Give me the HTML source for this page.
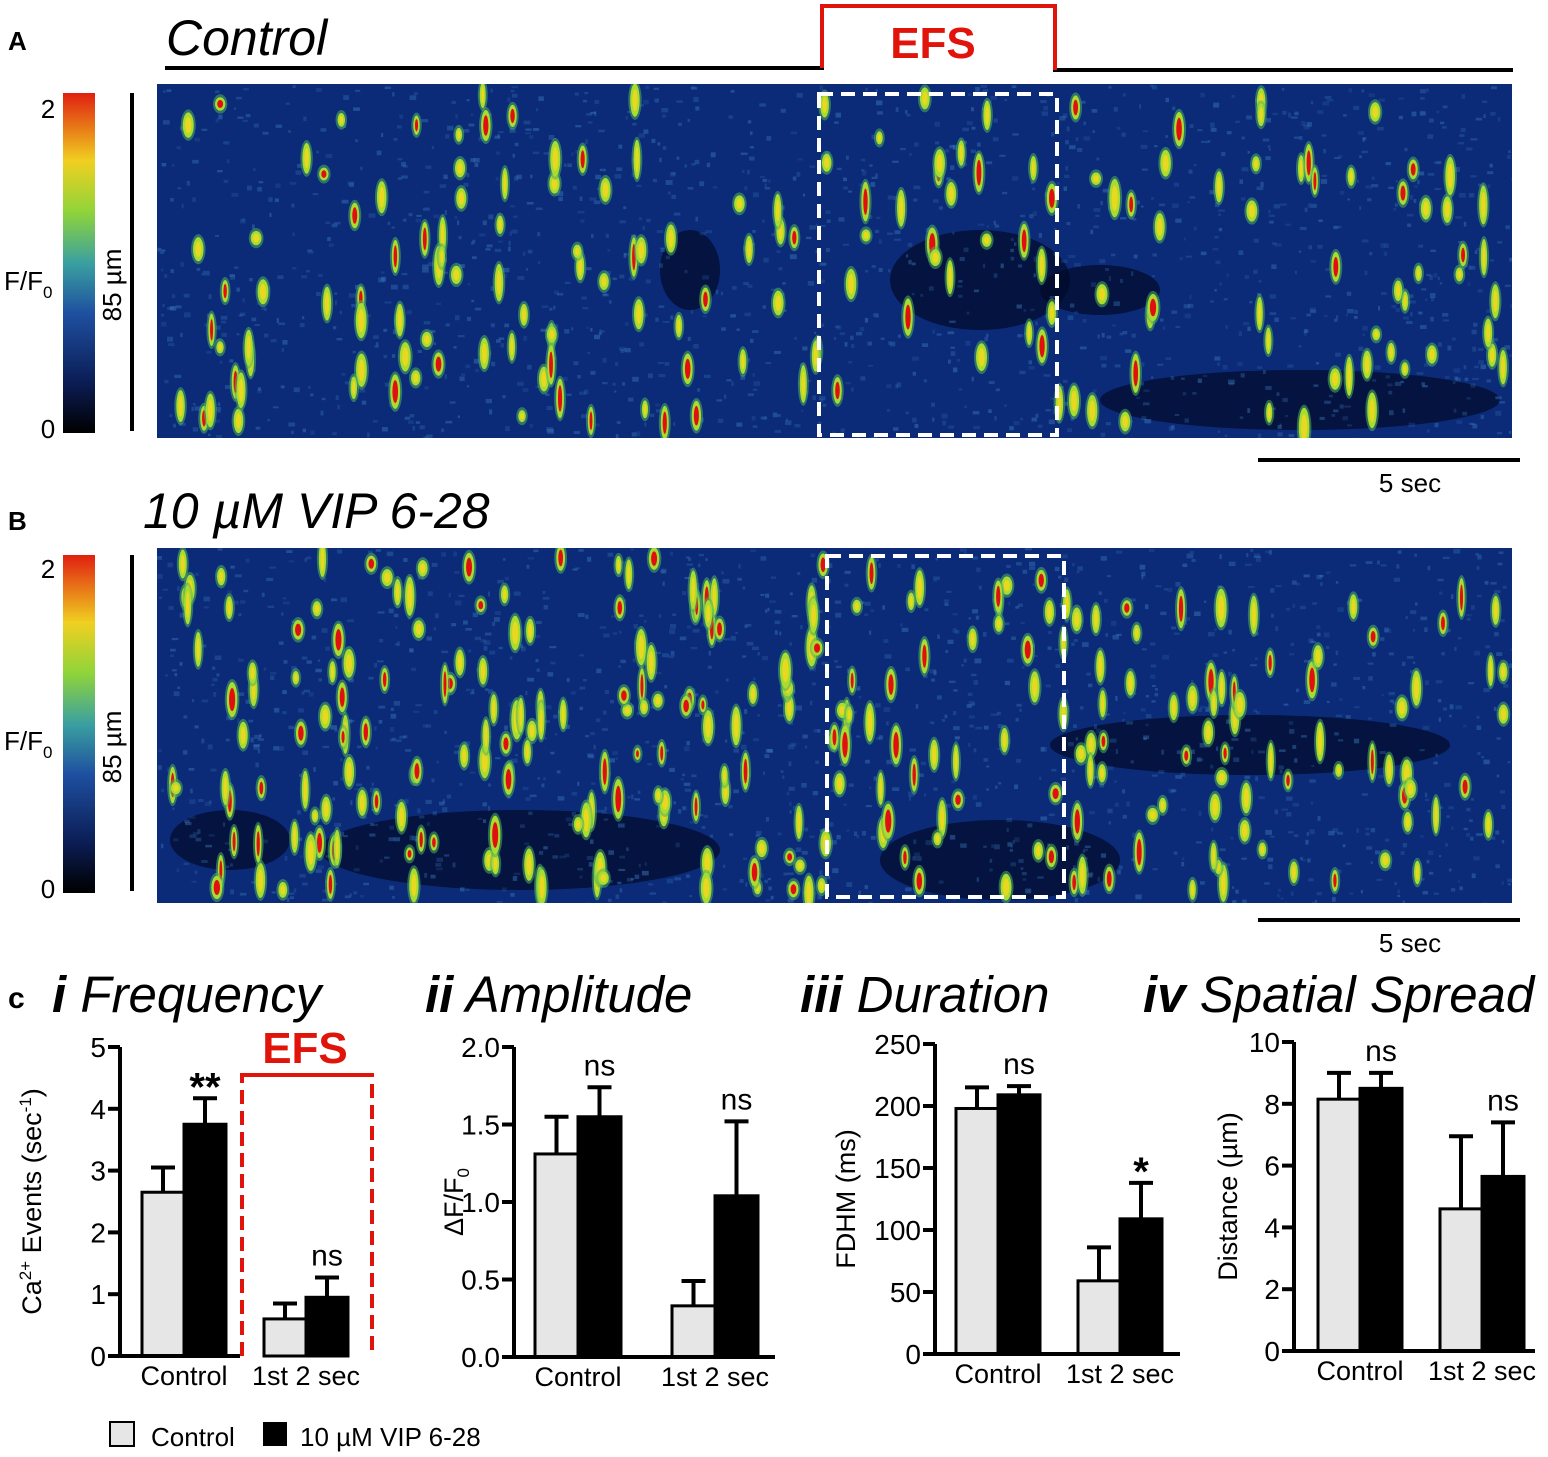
<!DOCTYPE html>
<html><head><meta charset="utf-8">
<style>
html,body{margin:0;padding:0;background:#fff;}
svg{display:block;font-family:"Liberation Sans",Arial,sans-serif;}
</style></head>
<body>
<svg id="fig" width="1548" height="1457" viewBox="0 0 1548 1457">
<defs>
<linearGradient id="cbar" x1="0" y1="1" x2="0" y2="0">
<stop offset="0" stop-color="#000000"/><stop offset="0.15" stop-color="#0b1d55"/><stop offset="0.35" stop-color="#1e4fa0"/><stop offset="0.5" stop-color="#3aa0a0"/><stop offset="0.65" stop-color="#8fd43a"/><stop offset="0.8" stop-color="#f0d020"/><stop offset="1" stop-color="#e02010"/>
</linearGradient>
<clipPath id="clipA"><rect x="157" y="84" width="1355" height="354"/></clipPath>
<clipPath id="clipB"><rect x="157" y="548" width="1355" height="355"/></clipPath>
</defs>

<text x="8" y="50" font-size="26" font-weight="bold">A</text>
<text x="166" y="55" font-size="50" font-style="italic">Control</text>
<polyline points="165,68 822,68 822,6 1055,6 1055,70 1513,70" fill="none" stroke="#000" stroke-width="4"/>
<polyline points="822,68 822,6 1055,6 1055,70" fill="none" stroke="#e0140a" stroke-width="4"/>
<text x="933" y="58" font-size="44" font-weight="bold" fill="#e0140a" text-anchor="middle">EFS</text>

<rect x="63" y="93" width="32" height="340" fill="url(#cbar)"/>
<text x="48" y="118" font-size="26" text-anchor="middle">2</text>
<text x="48" y="438" font-size="26" text-anchor="middle">0</text>
<text x="4" y="290" font-size="26">F/F<tspan font-size="17" dy="8">0</tspan></text>
<line x1="132" y1="93" x2="132" y2="431" stroke="#000" stroke-width="4"/>
<text transform="translate(121,285) rotate(-90)" font-size="26" text-anchor="middle">85 µm</text>
<g id="kymoA" clip-path="url(#clipA)"></g>
<line x1="1258" y1="460" x2="1520" y2="460" stroke="#000" stroke-width="4"/>
<text x="1410" y="492" font-size="26" text-anchor="middle">5 sec</text>

<text x="8" y="530" font-size="26" font-weight="bold">B</text>
<text x="143" y="528" font-size="50" font-style="italic">10 µM VIP 6-28</text>
<rect x="63" y="555" width="32" height="338" fill="url(#cbar)"/>
<text x="48" y="578" font-size="26" text-anchor="middle">2</text>
<text x="48" y="898" font-size="26" text-anchor="middle">0</text>
<text x="4" y="750" font-size="26">F/F<tspan font-size="17" dy="8">0</tspan></text>
<line x1="132" y1="555" x2="132" y2="891" stroke="#000" stroke-width="4"/>
<text transform="translate(121,747) rotate(-90)" font-size="26" text-anchor="middle">85 µm</text>
<g id="kymoB" clip-path="url(#clipB)"></g>
<line x1="1258" y1="920" x2="1520" y2="920" stroke="#000" stroke-width="4"/>
<text x="1410" y="952" font-size="26" text-anchor="middle">5 sec</text>

<text x="8" y="1008" font-size="30" font-weight="bold">c</text>
<text x="52" y="1012" font-size="51" font-style="italic"><tspan font-weight="bold">i</tspan> Frequency</text>
<text x="425" y="1012" font-size="51" font-style="italic"><tspan font-weight="bold">ii</tspan> Amplitude</text>
<text x="800" y="1012" font-size="51" font-style="italic"><tspan font-weight="bold">iii</tspan> Duration</text>
<text x="1143" y="1012" font-size="51" font-style="italic"><tspan font-weight="bold">iv</tspan> Spatial Spread</text>

<g id="charts"></g>

<polyline points="242,1356 242,1075 372,1075 372,1356" fill="none" stroke="#e0140a" stroke-width="4" stroke-dasharray="14,7"/>
<line x1="242" y1="1075" x2="372" y2="1075" stroke="#e0140a" stroke-width="4"/>
<text x="305" y="1063" font-size="44" font-weight="bold" fill="#e0140a" text-anchor="middle">EFS</text>

<rect x="110" y="1422" width="24" height="24" fill="#e6e6e6" stroke="#000" stroke-width="2"/>
<text x="151" y="1446" font-size="26">Control</text>
<rect x="263" y="1422" width="24" height="24" fill="#000"/>
<text x="300" y="1446" font-size="26">10 µM VIP 6-28</text>
</svg>

<script>
const groups = ["Control", "1st 2 sec"];
const freqControl = [2.65, 0.6];
const freqVip = [3.75, 0.95];
const freqErrControl = [0.4, 0.25];
const freqErrVip = [0.42, 0.32];
const freqTicks = [0, 1, 2, 3, 4, 5];
const freqSig = ["**", "ns"];

const ampControl = [1.31, 0.33];
const ampVip = [1.55, 1.04];
const ampErrControl = [0.24, 0.16];
const ampErrVip = [0.19, 0.48];
const ampTicks = ["0.0", "0.5", "1.0", "1.5", "2.0"];
const ampSig = ["ns", "ns"];

const durControl = [198, 59];
const durVip = [209, 109];
const durErrControl = [17, 27];
const durErrVip = [7, 29];
const durTicks = [0, 50, 100, 150, 200, 250];
const durSig = ["ns", "*"];

const sprControl = [8.15, 4.6];
const sprVip = [8.5, 5.65];
const sprErrControl = [0.85, 2.35];
const sprErrVip = [0.5, 1.75];
const sprTicks = [0, 2, 4, 6, 8, 10];
const sprSig = ["ns", "ns"];

const NS = "http://www.w3.org/2000/svg";
function mk(tag, attrs, parent){const e=document.createElementNS(NS,tag);for(const k in attrs)e.setAttribute(k,attrs[k]);parent.appendChild(e);return e;}

function chart(cfg){
  const g = mk("g",{},document.getElementById("charts"));
  
  
  const tmax = parseFloat(cfg.ticks[cfg.ticks.length-1]);
  const y = v => cfg.y0 - (v/tmax)*(cfg.y0-cfg.yTop);
  for(let i=0;i<groups.length;i++){
    const gx = cfg.gx[i];
    const series=[[cfg.c,cfg.ec,"#e6e6e6","control"],[cfg.v,cfg.ev,"#000","vip"]];
    series.forEach((s,j)=>{
      const x0 = gx + j*cfg.bw, v=s[0][i], e=s[1][i];
      const yt = y(v+e);
      const eb = mk("line",{x1:x0+cfg.bw/2,y1:y(v),x2:x0+cfg.bw/2,y2:yt,stroke:"#000","stroke-width":4},g);
      
      
      const cap = mk("line",{x1:x0+cfg.bw/2-12,y1:yt,x2:x0+cfg.bw/2+12,y2:yt,stroke:"#000","stroke-width":4},g);
      
      
      const r = mk("rect",{x:x0,y:y(v),width:cfg.bw,height:cfg.y0-y(v),fill:s[2],stroke:"#000","stroke-width":3},g);
      
      
    });
    const maxTop = y(cfg.v[i]+cfg.ev[i]);
    const sig = cfg.sig[i];
    const star = sig.indexOf("*")>=0;
    const st = mk("text",{x:gx+cfg.bw*1.5,y:maxTop-(star?-2:12),"font-size":star?40:30,"font-weight":star?"bold":"normal","text-anchor":"middle"},g);
    st.textContent = sig;
    
    
    const cl = mk("text",{x:gx+cfg.bw,y:cfg.y0+29,"font-size":27,"text-anchor":"middle"},g);
    cl.textContent = groups[i];
    
    
  }
  const ya = mk("line",{x1:cfg.ax,y1:cfg.yTop,x2:cfg.ax,y2:cfg.y0+2,stroke:"#000","stroke-width":4},g);
  
  
  const xa = mk("line",{x1:cfg.ax-12,y1:cfg.y0,x2:cfg.xEnd,y2:cfg.y0,stroke:"#000","stroke-width":4},g);
  
  
  cfg.ticks.forEach(t=>{
    const yy = y(parseFloat(t));
    const tk = mk("line",{x1:cfg.ax-12,y1:yy,x2:cfg.ax,y2:yy,stroke:"#000","stroke-width":4},g);
    
    
    const tl = mk("text",{x:cfg.ax-14,y:yy+10,"font-size":28,"text-anchor":"end"},g);
    tl.textContent = t;
    
    
  });
  const yt = mk("text",{transform:`translate(${cfg.titleX},${(cfg.y0+cfg.yTop)/2}) rotate(-90)`,"font-size":27,"text-anchor":"middle"},g);
  yt.innerHTML = cfg.title;
  
  
}

chart({name:"frequency-chart",ax:120,y0:1356,yTop:1047,gx:[142,264],bw:42,xEnd:240,c:freqControl,v:freqVip,ec:freqErrControl,ev:freqErrVip,ticks:freqTicks,sig:freqSig,titleX:41,
  title:'Ca<tspan font-size="17" dy="-10">2+</tspan><tspan dy="10"> Events (sec</tspan><tspan font-size="17" dy="-10">-1</tspan><tspan dy="10">)</tspan>'});
chart({name:"amplitude-chart",ax:514,y0:1357,yTop:1047,gx:[535,672],bw:43,xEnd:775,c:ampControl,v:ampVip,ec:ampErrControl,ev:ampErrVip,ticks:ampTicks,sig:ampSig,titleX:463,
  title:'ΔF/F<tspan font-size="17" dy="6">0</tspan>'});
chart({name:"duration-chart",ax:935,y0:1354,yTop:1044,gx:[956,1078],bw:42,xEnd:1180,c:durControl,v:durVip,ec:durErrControl,ev:durErrVip,ticks:durTicks,sig:durSig,titleX:855,
  title:'FDHM (ms)'});
chart({name:"spatial-spread-chart",ax:1294,y0:1351,yTop:1042,gx:[1318,1440],bw:42,xEnd:1535,c:sprControl,v:sprVip,ec:sprErrControl,ev:sprErrVip,ticks:sprTicks,sig:sprSig,titleX:1237,
  title:'Distance (µm)'});

let seed = 12345;
function rnd(){seed = (seed*1103515245+12345) & 0x7fffffff; return seed/0x7fffffff;}
function kymo(id, x0, y0, w, h, box, dense, dark){
  const g = document.getElementById(id);
  mk("rect",{x:x0,y:y0,width:w,height:h,fill:"#0b2a78"},g);
  dark.forEach(d=>{mk("ellipse",{cx:d[0],cy:d[1],rx:d[2],ry:d[3],fill:"#020a28",opacity:0.7},g);});
  for(let i=0;i<1400;i++){
    mk("rect",{x:x0+rnd()*w,y:y0+rnd()*h,width:2+rnd()*5,height:2+rnd()*3,fill:"#3a78b8",opacity:0.2+rnd()*0.3},g);
  }
  for(let i=0;i<dense;i++){
    const cx=x0+8+rnd()*(w-16), cy=y0+10+rnd()*(h-20);
    const ry=5+rnd()*14, rx=2+rnd()*2.5;
    const big = rnd()<0.3;
    mk("ellipse",{cx:cx,cy:cy,rx:rx+3,ry:ry+4,fill:"#4fb060",opacity:0.55},g);
    mk("ellipse",{cx:cx,cy:cy,rx:rx+1,ry:ry+1,fill:"#a8dc30"},g);
    mk("ellipse",{cx:cx,cy:cy,rx:rx*0.7,ry:ry*0.7,fill:big?"#e01010":"#e8d820"},g);
  }
  const b = mk("rect",{x:box[0],y:box[1],width:box[2],height:box[3],fill:"none",stroke:"#fff","stroke-width":4,"stroke-dasharray":"14,8"},g);
  
  
}
kymo("kymoA",157,84,1355,354,[819,94,238,341],170,[[690,270,30,40],[980,280,90,50],[1100,290,60,25],[1300,400,200,30]]);
kymo("kymoB",157,548,1355,355,[827,556,237,341],270,[[520,850,200,40],[1000,860,120,40],[1250,745,200,30],[230,840,60,30]]);
</script>
</body></html>
